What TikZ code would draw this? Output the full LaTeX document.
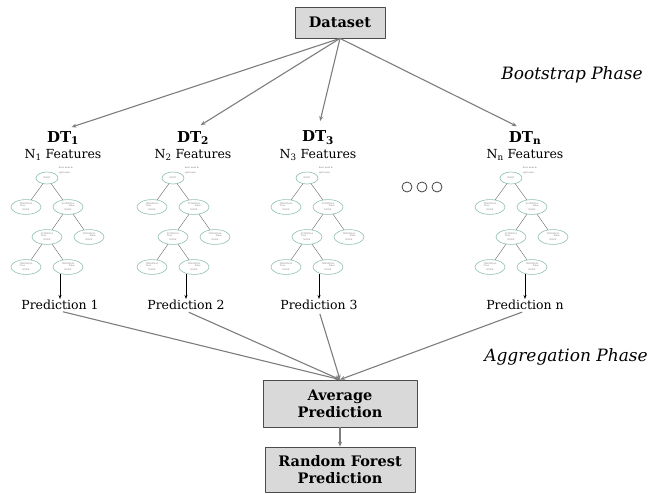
\documentclass[tikz,border=0pt]{standalone}
\usepackage{fontspec}
\setmainfont{DejaVu Serif}
\usetikzlibrary{arrows.meta, shapes.geometric, positioning}

\definecolor{boxgray}{RGB}{217,217,217}
\definecolor{linegray}{RGB}{125,125,125}
\definecolor{leafgreen}{RGB}{140,192,168}

\tikzset{
	phasebox/.style={draw=black!70, fill=boxgray, line width=0.8pt, align=center,
		font=\bfseries\fontsize{14.5}{17}\selectfont},
	flow/.style={draw=linegray, line width=1.1pt, -{Stealth[length=5pt, width=4pt]}},
	dtlabel/.style={font=\bfseries\fontsize{15}{17}\selectfont, inner sep=1pt},
	featlabel/.style={font=\fontsize{12.5}{14}\selectfont, inner sep=1pt},
	predlabel/.style={font=\fontsize{12.5}{14}\selectfont, inner sep=1pt},
	phaselabel/.style={font=\itshape\fontsize{17}{20}\selectfont},
	tnode/.style={ellipse, draw=leafgreen, line width=0.6pt, minimum width=75pt,
		minimum height=37pt, inner sep=0pt, align=center, text=black!50,
		font=\fontsize{5.5}{15}\selectfont, scale=0.4, transform shape},
	tedge/.style={draw=black!60, line width=0.4pt},
	tlab/.style={font=\fontsize{5.5}{13}\selectfont, text=black!55, inner sep=2pt,
		scale=0.4, transform shape},
	% small decision tree, origin at the root
	dtree/.pic={
		\node[tnode, minimum width=55pt, minimum height=30pt] (-root) at (0,0) {ROOT};
		\node[tlab, align=left, anchor=west] at (11,-8) {Root node \&\\split node};
		\node[tnode] (-ta) at (-21,29) {TERMINAL\\NODE};
		\node[tnode] (-ia) at (21,29) {INTERNAL\\NODE};
		\node[tnode] (-ib) at (0,59) {INTERNAL\\NODE};
		\node[tnode] (-tb) at (42,59) {TERMINAL\\NODE};
		\node[tnode] (-tc) at (-21,89) {TERMINAL\\NODE};
		\node[tnode] (-td) at (21,89) {TERMINAL\\NODE};
		\draw[tedge] (-root) -- node[tlab, above left] {True} (-ta);
		\draw[tedge] (-root) -- node[tlab, above right] {False} (-ia);
		\draw[tedge] (-ia) -- node[tlab, above left] {True} (-ib);
		\draw[tedge] (-ia) -- node[tlab, above right] {False} (-tb);
		\draw[tedge] (-ib) -- node[tlab, above left] {True} (-tc);
		\draw[tedge] (-ib) -- node[tlab, above right] {False} (-td);
	}
}

\begin{document}
\begin{tikzpicture}[x=1pt, y=-1pt, line join=round]
	
	\useasboundingbox (0,0) rectangle (659,493);
	
	% 1. Dataset and phase names
	\node[phasebox, minimum width=90pt, minimum height=31pt] (data) at (340,22.5) {Dataset};
	\node[phaselabel] (boot) at (572,75) {Bootstrap Phase};
	\node[phaselabel] (agg) at (566,357) {Aggregation Phase};
	
	% 2. One column per decision tree
	\foreach \i/\dx/\rx/\px in {1/63/47/60, 2/193/173/186, 3/318/307/319, n/525/511/525} {
		\node[dtlabel] (dt\i) at (\dx,138) {DT\textsubscript{\i}};
		\node[featlabel] (ft\i) at (\dx,155) {N\textsubscript{\mdseries\i} Features};
		\pic (tree\i) at (\rx,178) {dtree};
		\node[predlabel] (pred\i) at (\px,305) {Prediction \i};
		\coordinate (drop\i) at (\px,274);
		\draw[-{Stealth[length=4pt, width=3pt]}, line width=0.6pt] (drop\i) -- (pred\i.north);
		\draw[flow, shorten >=9pt] (data.south) -- (dt\i.north);
	}
	
	% the three dots
	\foreach \x in {407,422,437} {
		\draw[black!75, line width=0.8pt] (\x,187) circle (5pt);
	}
	
	% 3. Aggregation
	\node[phasebox, minimum width=154pt, minimum height=47pt] (avg) at (340,403.5) {Average\\Prediction};
	\node[phasebox, minimum width=150pt, minimum height=45pt] (rf) at (340,469.5) {Random Forest\\Prediction};
	
	\foreach \i in {1,2,3,n} {
		\draw[flow, shorten <=3pt] (pred\i.south) -- (avg.north);
	}
	\draw[flow] (avg.south) -- (rf.north);
	
\end{tikzpicture}
\end{document}
